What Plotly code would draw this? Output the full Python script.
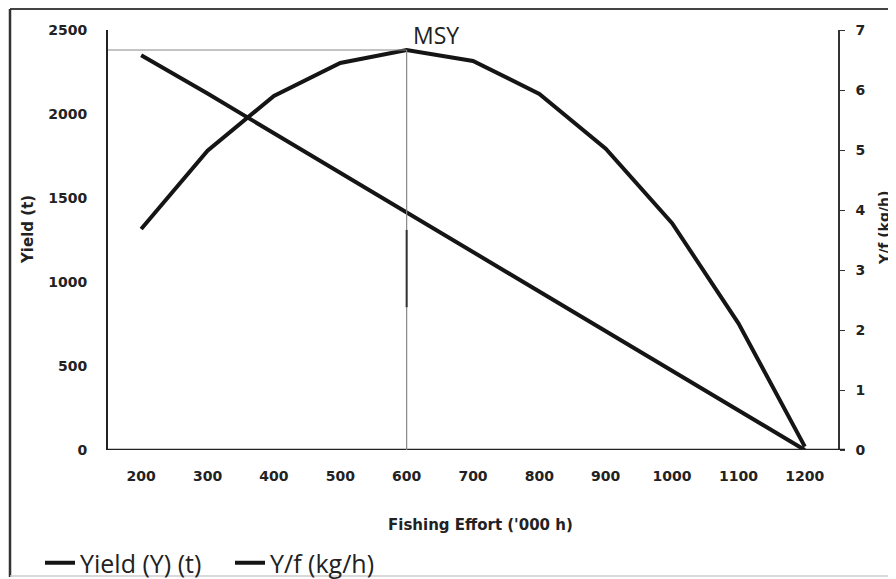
import plotly.graph_objects as go

effort = [200, 300, 400, 500, 600, 700, 800, 900, 1000, 1100, 1200]
yield_t = [1315, 1781, 2108, 2304, 2381, 2316, 2120, 1793, 1350, 754, 20]
cpue = [6.58, 5.94, 5.28, 4.62, 3.96, 3.30, 2.64, 1.98, 1.32, 0.66, 0.0]
msy_effort = 600
msy_yield = 2381
x_ticks = effort
y_ticks = [0, 500, 1000, 1500, 2000, 2500]
y2_ticks = [0, 1, 2, 3, 4, 5, 6, 7]

# page body has an 8px margin; work in screen pixels and convert
O = 8
W, H = 896 - O, 579 - O
L, T = 108 - O, 30 - O
R = W - (838 - O)
B = H - (450 - O)
pw, ph = W - L - R, H - T - B

def px(xs):
    return (xs - O - L) / pw

def py(ys):
    return (T + ph - (ys - O)) / ph

fig = go.Figure()
fig.add_trace(go.Scatter(x=effort, y=yield_t, mode="lines", name="Yield (Y) (t)",
                         line=dict(color="#151515", width=4), yaxis="y"))
fig.add_trace(go.Scatter(x=effort, y=cpue, mode="lines", name="Y/f (kg/h)",
                         line=dict(color="#151515", width=4), yaxis="y2"))

tickfont = dict(family="DejaVu Sans", size=14, color="#222", weight="bold")
boldfont = dict(family="DejaVu Sans", size=15, color="#222", weight="bold")

fig.update_layout(
    width=W, height=H,
    margin=dict(l=L, r=R, t=T, b=B, autoexpand=False),
    paper_bgcolor="white", plot_bgcolor="white",
    showlegend=True,
    legend=dict(orientation="h", x=px(40), y=py(563), xanchor="left", yanchor="middle",
                font=dict(family="Open Sans", size=25, color="#222"),
                itemwidth=30, entrywidth=145, entrywidthmode="pixels",
                bgcolor="rgba(0,0,0,0)", tracegroupgap=0),
    xaxis=dict(range=[150, 1250], tickvals=x_ticks, ticktext=[str(v) for v in x_ticks],
               showgrid=False, zeroline=False, showline=False, ticks="",
               tickfont=tickfont, ticklabelstandoff=16),
    yaxis=dict(range=[0, 2500], tickvals=y_ticks, showgrid=False, zeroline=False,
               showline=True, linecolor="#222", linewidth=2, ticks="",
               tickfont=tickfont, ticklabelstandoff=16),
    yaxis2=dict(range=[0, 7], tickvals=y2_ticks, overlaying="y", side="right",
                showgrid=False, zeroline=False, showline=True, linecolor="#333",
                linewidth=1.5, ticks="outside", ticklen=5, tickcolor="#333",
                tickfont=tickfont, ticklabelstandoff=8),
)

# x axis baseline
fig.add_shape(type="line", xref="paper", yref="y", x0=0, x1=px(845), y0=0, y1=0,
              line=dict(color="#222", width=2.5))
# MSY reference lines
fig.add_shape(type="line", xref="x", yref="y", x0=150, x1=msy_effort, y0=msy_yield, y1=msy_yield,
              line=dict(color="#888", width=1.2))
fig.add_shape(type="line", xref="x", yref="y", x0=msy_effort, x1=msy_effort, y0=0, y1=msy_yield,
              line=dict(color="#888", width=1.2))
fig.add_shape(type="line", xref="x", yref="y", x0=msy_effort, x1=msy_effort, y0=850, y1=1310,
              line=dict(color="#333", width=2))

# outer frame
fig.add_shape(type="line", xref="paper", yref="paper", x0=px(10), x1=px(900), y0=py(9), y1=py(9),
              line=dict(color="#444", width=2))
fig.add_shape(type="line", xref="paper", yref="paper", x0=px(10), x1=px(10), y0=py(9), y1=py(577),
              line=dict(color="#333", width=2.5))
fig.add_shape(type="line", xref="paper", yref="paper", x0=px(10), x1=px(900), y0=py(576), y1=py(576),
              line=dict(color="#ccc", width=1.5))

fig.add_annotation(text="MSY", xref="paper", yref="paper", x=px(436), y=py(35),
                   showarrow=False, font=dict(family="Open Sans", size=23, color="#222"),
                   xanchor="center", yanchor="middle")
fig.add_annotation(text="Yield (t)", xref="paper", yref="paper", x=px(28), y=py(230),
                   showarrow=False, textangle=-90, font=boldfont,
                   xanchor="center", yanchor="middle")
fig.add_annotation(text="Y/f (kg/h)", xref="paper", yref="paper", x=px(884), y=py(228),
                   showarrow=False, textangle=-90, font=dict(boldfont, size=14),
                   xanchor="center", yanchor="middle")
fig.add_annotation(text="Fishing Effort ('000 h)", xref="paper", yref="paper", x=px(481), y=py(525),
                   showarrow=False, font=boldfont,
                   xanchor="center", yanchor="middle")

fig.write_html("out.html")
